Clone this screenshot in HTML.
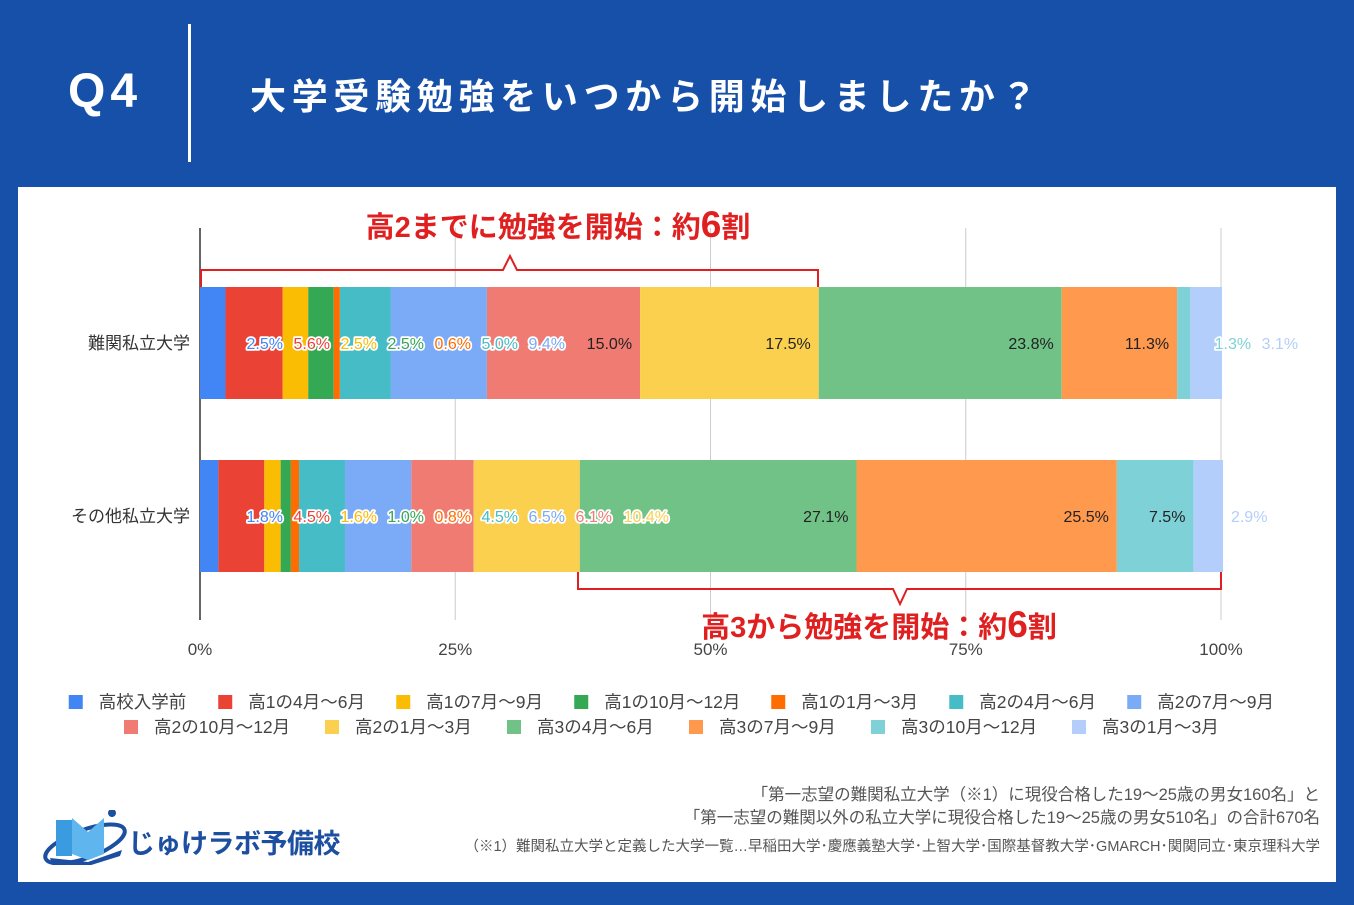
<!DOCTYPE html>
<html><head><meta charset="utf-8"><style>
body{margin:0;width:1354px;height:905px;background:#1650a9;font-family:"Liberation Sans","Noto Sans CJK JP",sans-serif;overflow:hidden;position:relative}
.abs{position:absolute}
</style></head><body>
<div class="abs" style="left:68px;top:64px;color:#fff;font-size:48px;font-weight:bold;letter-spacing:5px">Q4</div>
<div class="abs" style="left:188px;top:24px;width:3px;height:138px;background:#fff"></div>
<div class="abs" style="left:250px;top:68px;color:#fff;font-size:36px;font-weight:bold;letter-spacing:5.7px;white-space:nowrap">大学受験勉強をいつから開始しましたか？</div>
<div class="abs" style="left:18px;top:187px;width:1318px;height:695px;background:#fff"></div>
<svg class="abs" style="left:0;top:0" width="1354" height="905" id="chart">
</svg>
<div class="abs" style="right:34px;top:784px;text-align:right;color:#555;font-size:16.5px;line-height:23px">「第一志望の難関私立大学（※1）に現役合格した19〜25歳の男女160名」と<br>「第一志望の難関以外の私立大学に現役合格した19〜25歳の男女510名」の合計670名</div>
<div class="abs" style="right:34px;top:835px;color:#555;font-size:14.5px;white-space:nowrap">（※1）難関私立大学と定義した大学一覧…早稲田大学･慶應義塾大学･上智大学･国際基督教大学･GMARCH･関関同立･東京理科大学</div>
<div class="abs" style="left:40px;top:810px;width:310px;height:55px">
<svg width="90" height="55" style="position:absolute;left:0;top:0"><ellipse cx="45" cy="34" rx="42" ry="14" fill="none" stroke="#1d4fa0" stroke-width="4" transform="rotate(-20 45 34)"/><rect x="16" y="10" width="16" height="36" fill="#3a9be0"/><polygon points="32,8 48,22 64,8 64,44 48,50 32,44" fill="#5fb5ee"/><polygon points="10,48 48,52 82,40 80,46 48,56 12,54" fill="#1d4fa0"/><circle cx="72" cy="3" r="4" fill="#1d4fa0"/></svg>
<div style="position:absolute;left:88px;top:12px;color:#1d4fa0;font-size:27px;font-weight:bold;white-space:nowrap;letter-spacing:-0.5px">じゅけラボ予備校</div></div>
<script>
const categories=["難関私立大学","その他私立大学"];
const seriesNames=["高校入学前","高1の4月〜6月","高1の7月〜9月","高1の10月〜12月","高1の1月〜3月","高2の4月〜6月","高2の7月〜9月","高2の10月〜12月","高2の1月〜3月","高3の4月〜6月","高3の7月〜9月","高3の10月〜12月","高3の1月〜3月"];
const valuesTop=[2.5,5.6,2.5,2.5,0.6,5.0,9.4,15.0,17.5,23.8,11.3,1.3,3.1];
const valuesBottom=[1.8,4.5,1.6,1.0,0.8,4.5,6.5,6.1,10.4,27.1,25.5,7.5,2.9];
const tickLabels=["0%","25%","50%","75%","100%"];
const tickValues=[0,25,50,75,100];
const colors=["#4285f4","#ea4335","#fbbc04","#34a853","#ff6d01","#46bdc6","#7baaf7","#f07b72","#fcd04f","#71c287","#ff994d","#7ed1d7","#b3cefb"];
const NS="http://www.w3.org/2000/svg";
const svg=document.getElementById('chart');
const X0=200,X1=1221,bandTop=[287,460],bandH=112;
const xs=v=>X0+(X1-X0)*v/100;
function mk(tag,attrs,parent){const e=document.createElementNS(NS,tag);for(const k in attrs)e.setAttribute(k,attrs[k]);(parent||svg).appendChild(e);return e;}
tickValues.forEach((t,i)=>{
  if(t>0){const g=mk('line',{x1:xs(t),x2:xs(t),y1:228,y2:620,stroke:'#ccc','stroke-width':1});
  
  }
  const tx=mk('text',{x:xs(t),y:655,'text-anchor':'middle','font-size':17,fill:'#444'});tx.textContent=tickLabels[i];
  
  
});
const ax=mk('line',{x1:X0,x2:X0,y1:228,y2:620,stroke:'#333','stroke-width':1.5});


[valuesTop,valuesBottom].forEach((vals,ci)=>{
  const y=bandTop[ci];
  const cl=mk('text',{x:190,y:y+bandH/2+6,'text-anchor':'end','font-size':17,fill:'#333'});cl.textContent=categories[ci];
  
  
  let acc=0;const segs=[];
  vals.forEach((v,i)=>{
    const a=xs(acc),b=xs(acc+v);acc+=v;
    const r=mk('rect',{x:a,y:y,width:Math.max(0,b-a),height:bandH,fill:colors[i]});
    
    
    segs.push([a,b]);
  });
  let cursor=X0+43;
  vals.forEach((v,i)=>{
    const s=v.toFixed(1)+'%';const w=s.length*10;
    const [a,b]=segs[i];
    let right=Math.max(b-8,cursor+w);let left=right-w;
    const inside=left>=a+2&&right<=b;
    cursor=right+7;
    if(!inside&&a>X1-60){right+=35;}
    const t=mk('text',{x:right,y:y+bandH/2+6,'text-anchor':'end','font-size':16});
    t.textContent=s;
    if(inside){t.setAttribute('fill','#222');}
    else{t.setAttribute('fill',colors[i]);t.setAttribute('stroke','#fff');t.setAttribute('stroke-width','3.5');t.setAttribute('paint-order','stroke');t.setAttribute('stroke-linejoin','round');}
    
    
  });
});
const b1=mk('path',{d:'M201,287 V270 H503 L510,256 L517,270 H818 V287',fill:'none',stroke:'#e02020','stroke-width':2});


const b2=mk('path',{d:'M578,572 V589 H893 L900,604 L907,589 H1221 V572',fill:'none',stroke:'#e02020','stroke-width':2});


const a1=mk('text',{x:558,y:237,'text-anchor':'middle','font-size':29,'font-weight':'bold',fill:'#e02020'});
a1.innerHTML='高2までに勉強を開始：約<tspan font-size="37">6</tspan>割';


const a2=mk('text',{x:879,y:637,'text-anchor':'middle','font-size':29,'font-weight':'bold',fill:'#e02020'});
a2.innerHTML='高3から勉強を開始：約<tspan font-size="37">6</tspan>割';


const rows=[[0,7],[7,13]];
const rowY=[702,727];
rows.forEach(([s,e],ri)=>{
  const items=[];let tw=0;
  for(let i=s;i<e;i++){const w=22+[...seriesNames[i]].reduce((q,c)=>q+(/[0-9]/.test(c)?9.5:17.5),0)+(ri==0?40:44);items.push(w);tw+=w;}
  tw-=40;
  let x=(1354-tw)/2+(ri==0?-10:-8);
  for(let i=s;i<e;i++){
    const g=mk('g',{});
    
    
    mk('rect',{x:x,y:rowY[ri]-7,width:14,height:14,fill:colors[i]},g);
    const t=mk('text',{x:x+30,y:rowY[ri]+6,'font-size':17.5,fill:'#444'},g);t.textContent=seriesNames[i];
    x+=items[i-s];
  }
});
</script>
</body></html>
